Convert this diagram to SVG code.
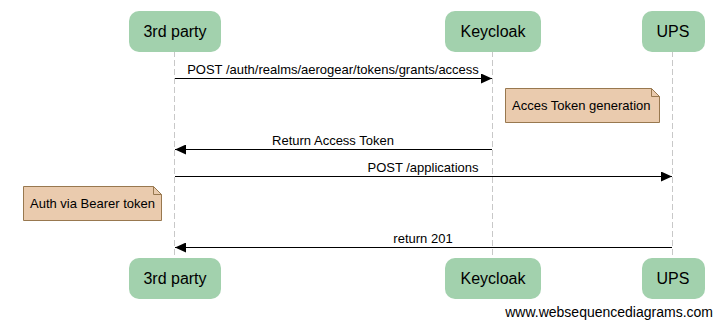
<svg xmlns="http://www.w3.org/2000/svg" width="717" height="320" viewBox="0 0 717 320">
  <defs>
    <marker id="arrow" markerWidth="12" markerHeight="10" refX="11" refY="5" orient="auto" markerUnits="userSpaceOnUse">
      <path d="M0,0 L11,5 L0,10 Z" fill="#000"/>
    </marker>
    <style>
      .actor rect { fill: #a2d1ad; stroke: none; }
      .actor text { font-family: "Liberation Sans", Arial, sans-serif; font-size: 16px; fill: #000; text-anchor: middle; }
      .life { stroke: #c8c8c8; stroke-width: 1; stroke-dasharray: 6,3; }
      .msg { stroke: #000; stroke-width: 1; fill: none; marker-end: url(#arrow); }
      .lbl { font-family: "Liberation Sans", Arial, sans-serif; font-size: 13px; fill: #000; text-anchor: middle; }
      .note path.body { fill: #eacbae; stroke: #98784f; stroke-width: 1; }
      .note path.fold { fill: none; stroke: #98784f; stroke-width: 1; }
      .note text { font-family: "Liberation Sans", Arial, sans-serif; font-size: 13px; fill: #000; }
      .wm { font-family: "Liberation Sans", Arial, sans-serif; font-size: 14px; fill: #000; text-anchor: end; }
    </style>
  </defs>
  <rect width="717" height="320" fill="#fff"/>

  <!-- lifelines -->
  <g id="lifelines">
    <line class="life" x1="174.5" y1="51" x2="174.5" y2="258"/>
    <line class="life" x1="492.5" y1="51" x2="492.5" y2="258"/>
    <line class="life" x1="672.5" y1="51" x2="672.5" y2="258"/>
  </g>

  <!-- participants, top -->
  <g id="third-party-top" class="actor">
    <rect x="129" y="11" width="92" height="41" rx="10"/>
    <text x="175" y="37">3rd party</text>
  </g>
  <g id="keycloak-top" class="actor">
    <rect x="445" y="11" width="96" height="41" rx="10"/>
    <text x="493" y="37">Keycloak</text>
  </g>
  <g id="ups-top" class="actor">
    <rect x="642" y="11" width="63" height="41" rx="10"/>
    <text x="673" y="37">UPS</text>
  </g>

  <!-- participants, bottom -->
  <g id="third-party-bottom" class="actor">
    <rect x="129" y="258" width="92" height="41" rx="10"/>
    <text x="175" y="284">3rd party</text>
  </g>
  <g id="keycloak-bottom" class="actor">
    <rect x="445" y="258" width="96" height="41" rx="10"/>
    <text x="493" y="284">Keycloak</text>
  </g>
  <g id="ups-bottom" class="actor">
    <rect x="642" y="258" width="63" height="41" rx="10"/>
    <text x="673" y="284">UPS</text>
  </g>

  <!-- messages -->
  <g id="connectors">
    <line class="msg" x1="175" y1="78.5" x2="492" y2="78.5"/>
    <text class="lbl" x="333" y="74">POST /auth/realms/aerogear/tokens/grants/access</text>

    <line class="msg" x1="492" y1="149.5" x2="175" y2="149.5"/>
    <text class="lbl" x="333" y="145">Return Access Token</text>

    <line class="msg" x1="175" y1="176.5" x2="672" y2="176.5"/>
    <text class="lbl" x="423" y="172">POST /applications</text>

    <line class="msg" x1="672" y1="247.5" x2="175" y2="247.5"/>
    <text class="lbl" x="423" y="243">return 201</text>
  </g>

  <!-- notes -->
  <g id="note-token" class="note">
    <path class="body" d="M505.5,88.5 H651.5 L659.5,96.5 V122.5 H505.5 Z"/>
    <path class="fold" d="M651.5,88.5 V96.5 H659.5"/>
    <text x="512" y="110">Acces Token generation</text>
  </g>
  <g id="note-bearer" class="note">
    <path class="body" d="M23.5,186.5 H153.5 L161.5,194.5 V220.5 H23.5 Z"/>
    <path class="fold" d="M153.5,186.5 V194.5 H161.5"/>
    <text x="30" y="208">Auth via Bearer token</text>
  </g>

  <text class="wm" x="713" y="317">www.websequencediagrams.com</text>
</svg>
